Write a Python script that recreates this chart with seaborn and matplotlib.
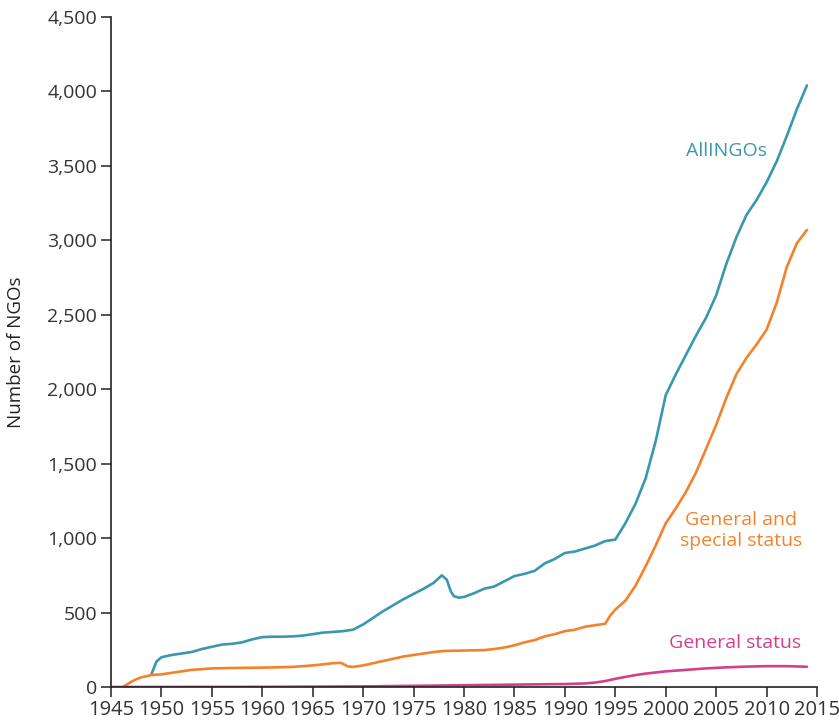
import matplotlib
matplotlib.use("Agg")
import matplotlib.pyplot as plt
import seaborn as sns
import pandas as pd
from matplotlib.ticker import FuncFormatter, MultipleLocator

# ---- data ----
all_years = [1949, 1949.5, 1950, 1951, 1952, 1953, 1954, 1955, 1956, 1957, 1958, 1959, 1960,
             1961, 1962, 1963, 1964, 1965, 1966, 1967, 1968, 1969, 1970, 1971, 1972, 1973,
             1974, 1975, 1976, 1977, 1977.8, 1978.3, 1978.7, 1979, 1979.5, 1980, 1981, 1982,
             1983, 1984, 1985, 1986, 1987, 1988, 1989, 1990, 1991, 1992, 1993, 1994, 1995,
             1996, 1997, 1998, 1999, 2000, 2001, 2002, 2003, 2004, 2005, 2006, 2007, 2008,
             2009, 2010, 2011, 2012, 2013, 2014]
all_ingos = [85, 170, 200, 215, 225, 235, 255, 270, 285, 290, 300, 320, 335,
             338, 338, 340, 345, 355, 365, 370, 375, 385, 420, 465, 510, 550,
             590, 625, 660, 700, 750, 720, 640, 610, 600, 605, 630, 660,
             675, 710, 745, 760, 780, 830, 860, 900, 910, 930, 950, 980, 990,
             1100, 1230, 1400, 1650, 1960, 2100, 2230, 2360, 2480, 2630, 2840, 3020, 3170,
             3270, 3390, 3530, 3700, 3880, 4040]

gs_years = [1946.2, 1946.6, 1947, 1947.5, 1948, 1949, 1950, 1951, 1952, 1953, 1954, 1955, 1957, 1960,
            1963, 1965, 1966, 1967, 1967.8, 1968.5, 1969, 1970, 1971, 1972, 1973, 1974,
            1975, 1976, 1977, 1978, 1980, 1982, 1983, 1984, 1985, 1986, 1987, 1988, 1989,
            1990, 1991, 1992, 1993, 1994, 1994.5, 1995, 1996, 1997, 1998, 1999, 2000, 2001,
            2002, 2003, 2004, 2005, 2006, 2007, 2008, 2009, 2010, 2011, 2012, 2013, 2014]
gen_special = [0, 18, 35, 52, 65, 80, 85, 95, 105, 115, 120, 125, 128, 130,
               135, 145, 152, 160, 162, 138, 135, 145, 160, 175, 190, 205,
               215, 225, 235, 242, 245, 248, 255, 265, 280, 300, 315, 340, 355,
               375, 385, 405, 415, 425, 480, 520, 580, 680, 810, 950, 1100, 1200,
               1310, 1440, 1600, 1760, 1940, 2100, 2210, 2300, 2400, 2580, 2820, 2980, 3070]

g_years = [1945, 1960, 1970, 1975, 1980, 1985, 1990, 1992, 1993, 1994, 1995, 1996, 1997,
           1998, 2000, 2002, 2004, 2006, 2008, 2010, 2012, 2014]
general = [0, 1, 4, 8, 12, 16, 20, 24, 30, 40, 55, 68, 80,
           90, 105, 115, 125, 132, 137, 140, 140, 136]

labels = ["AllINGOs", "General and\nspecial status", "General status"]
colors = ["#3a97b0", "#f5822a", "#d43f8d"]

df_all = pd.DataFrame({"year": all_years, "n": all_ingos})
df_gs = pd.DataFrame({"year": gs_years, "n": gen_special})
df_g = pd.DataFrame({"year": g_years, "n": general})

sns.set_theme(style="ticks")
plt.rcParams["font.family"] = ["Open Sans", "DejaVu Sans"]

fig = plt.figure(figsize=(8.39, 7.25), dpi=100)
ax = fig.add_axes([0.1323, 0.0524, 0.8415, 0.9242])

sns.lineplot(data=df_all, x="year", y="n", ax=ax, color=colors[0], linewidth=1.9)
sns.lineplot(data=df_gs, x="year", y="n", ax=ax, color=colors[1], linewidth=1.9)
sns.lineplot(data=df_g, x="year", y="n", ax=ax, color=colors[2], linewidth=1.9)

ax.set_xlim(1945, 2015)
ax.set_ylim(0, 4500)
ax.xaxis.set_major_locator(MultipleLocator(5))
ax.yaxis.set_major_locator(MultipleLocator(500))
ax.yaxis.set_major_formatter(FuncFormatter(lambda v, p: f"{int(v):,}"))
ax.set_xlabel("")
ax.set_ylabel("Number of NGOs", fontsize=13.5, color="#222222", labelpad=16)
ax.tick_params(axis="both", direction="out", length=7, width=1.2, color="#333333",
               labelsize=14, labelcolor="#333333", pad=3)
ax.tick_params(axis="x", labelsize=14.5, pad=2)
for s in ["top", "right"]:
    ax.spines[s].set_visible(False)
for s in ["left", "bottom"]:
    ax.spines[s].set_linewidth(1.2)
    ax.spines[s].set_color("#222222")

ax.text(2006.0, 3600, labels[0], color=colors[0], fontsize=14, ha="center", va="center")
ax.text(2007.5, 1050, labels[1], color=colors[1], fontsize=14, ha="center", va="center",
        linespacing=1.2)
ax.text(2006.9, 295, labels[2], color=colors[2], fontsize=14, ha="center", va="center")

fig.savefig("out.png", dpi=100)
